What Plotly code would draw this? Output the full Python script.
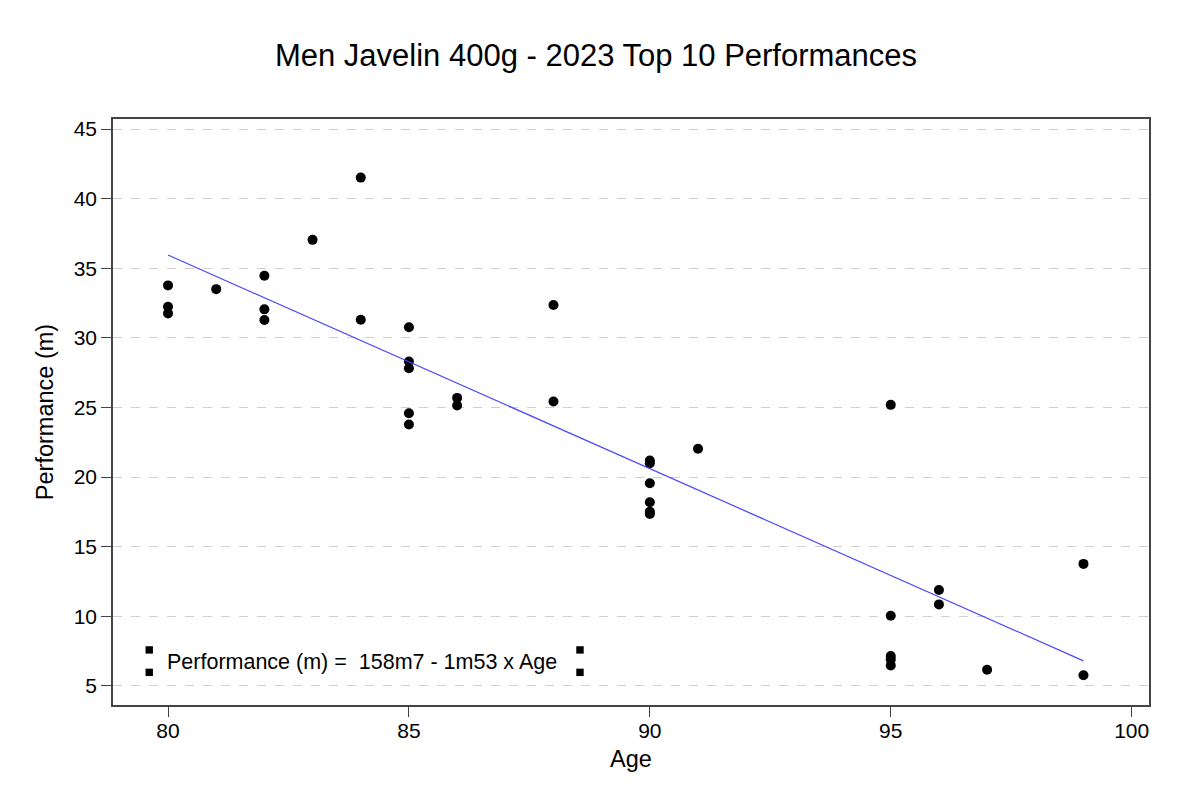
import plotly.graph_objects as go

# Data
ages = [80, 80, 80, 81, 82, 82, 82, 83, 84, 84,
        85, 85, 85, 85, 85, 86, 86, 88, 88,
        90, 90, 90, 90, 90, 90, 91,
        95, 95, 95, 95, 95, 96, 96, 97, 99, 99]
performances = [33.77, 32.24, 31.76, 33.5, 34.46, 32.05, 31.29, 37.04, 41.51, 31.3,
                30.76, 28.3, 27.82, 24.59, 23.78, 25.69, 25.14, 32.36, 25.43,
                21.19, 21.0, 19.56, 18.2, 17.52, 17.36, 22.04,
                25.19, 10.04, 7.15, 6.91, 6.48, 11.9, 10.86, 6.17, 13.77, 5.77]

# Regression line (as printed in the chart: 158m7 - 1m53 x Age)
fit_intercept = 158.67
fit_slope = -1.534
fit_ages = [80, 99]
fit_values = [fit_intercept + fit_slope * a for a in fit_ages]

x_ticks = [80, 85, 90, 95, 100]
y_ticks = [5, 10, 15, 20, 25, 30, 35, 40, 45]

title_text = "Men Javelin 400g - 2023 Top 10 Performances"
equation_text = "Performance (m) =  158m7 - 1m53 x Age"

FONT = "Liberation Sans, Arial, sans-serif"

fig = go.Figure()
fig.add_trace(go.Scatter(
    x=ages, y=performances, mode="markers",
    marker=dict(color="black", size=10, line=dict(width=0)),
    showlegend=False, hoverinfo="x+y"))
fig.add_trace(go.Scatter(
    x=fit_ages, y=fit_values, mode="lines",
    line=dict(color="rgb(70,70,255)", width=1.2),
    showlegend=False))

# small square corner marks around the equation label
for sx in [79.61, 88.55]:
    for sy in [7.59, 5.98]:
        fig.add_shape(type="rect", xref="x", yref="y",
                      xsizemode="pixel", ysizemode="pixel",
                      xanchor=sx, yanchor=sy,
                      x0=-3.7, x1=3.7, y0=-3.7, y1=3.7,
                      fillcolor="black", line=dict(width=0))

fig.add_annotation(text=equation_text.replace("  ", " &nbsp;"),
                   xref="paper", yref="paper",
                   x=0.0500, y=0.0729, xanchor="left", yanchor="middle",
                   showarrow=False,
                   font=dict(family=FONT, size=21.5, color="black"))

fig.update_layout(
    width=1200, height=800,
    margin=dict(l=105, r=59, t=111, b=103),
    paper_bgcolor="white", plot_bgcolor="white",
    font=dict(family=FONT, color="black"),
    title=dict(text=title_text, x=0.49, xanchor="center",
               y=0.941, yanchor="middle",
               font=dict(family=FONT, size=31, color="black")),
)
fig.update_xaxes(
    range=[78.858, 100.36], tickvals=x_ticks,
    ticks="outside", ticklen=10, tickcolor="#444", tickwidth=1.2,
    showgrid=False, zeroline=False,
    showline=True, linecolor="#444", linewidth=1.5, mirror=True,
    tickfont=dict(family=FONT, size=21, color="black"),
    ticklabelstandoff=-4,
    title=dict(text="Age", standoff=10,
               font=dict(family=FONT, size=23.5, color="black")))
fig.update_yaxes(
    range=[3.635, 45.72], tickvals=y_ticks,
    ticks="outside", ticklen=10, tickcolor="#444", tickwidth=1.2,
    showgrid=True, gridcolor="#d0d0d0", griddash="dash", gridwidth=1,
    zeroline=False,
    showline=True, linecolor="#444", linewidth=1.5, mirror=True,
    tickfont=dict(family=FONT, size=21, color="black"),
    title=dict(text="Performance (m)", standoff=13,
               font=dict(family=FONT, size=23.5, color="black")))

fig.write_html("out.html")
